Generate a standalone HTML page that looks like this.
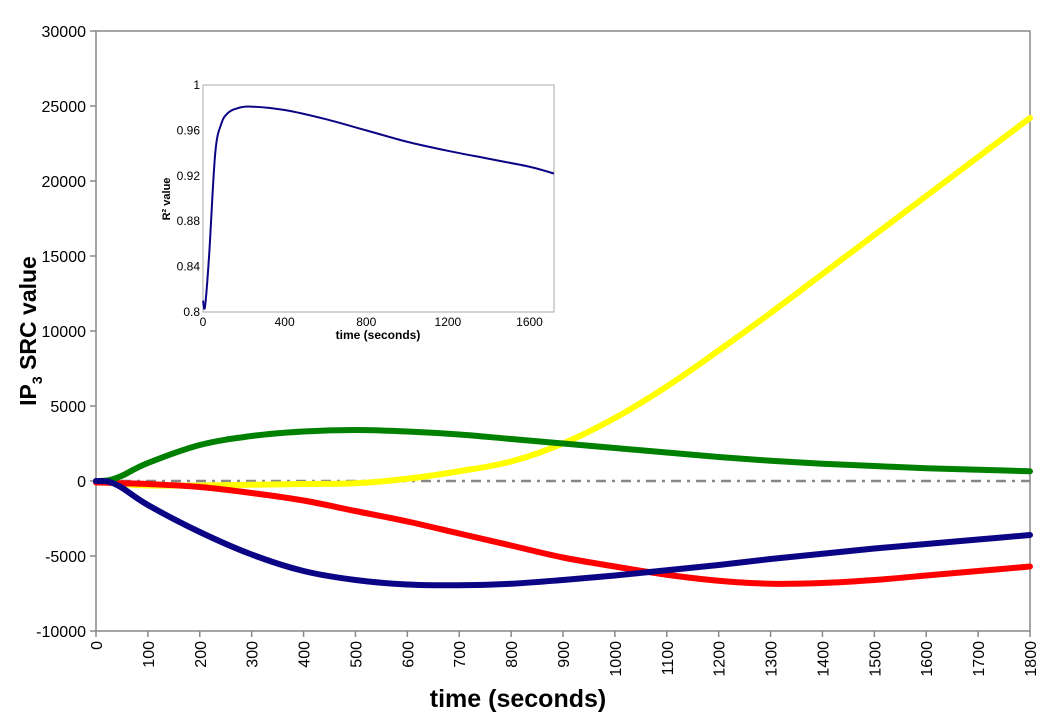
<!DOCTYPE html>
<html><head><meta charset="utf-8"><style>
body{margin:0;background:#fff;}
svg{display:block;font-family:"Liberation Sans",Arial,sans-serif;}
</style></head><body>
<svg id="chart" width="1050" height="715" viewBox="0 0 1050 715" xmlns="http://www.w3.org/2000/svg"></svg>
<script>
const times = [0,25,50,100,200,300,400,500,600,700,800,900,1000,1100,1200,1300,1400,1500,1600,1700,1800];
const yellowVals = [0,-0.1,-0.2,-0.3,-0.3,-0.25,-0.2,-0.15,0.15,0.65,1.3,2.5,4.2,6.3,8.7,11.2,13.8,16.4,19.0,21.6,24.2];
const greenVals = [0,0.05,0.35,1.2,2.4,3.0,3.3,3.4,3.3,3.1,2.8,2.5,2.2,1.9,1.6,1.35,1.15,1.0,0.85,0.75,0.65];
const blueVals = [0,-0.05,-0.45,-1.6,-3.4,-4.9,-6.0,-6.6,-6.9,-6.95,-6.85,-6.6,-6.3,-5.95,-5.6,-5.2,-4.85,-4.5,-4.2,-3.9,-3.6];
const redVals = [-0.1,-0.12,-0.15,-0.2,-0.4,-0.8,-1.3,-2.0,-2.7,-3.5,-4.3,-5.1,-5.7,-6.25,-6.65,-6.85,-6.8,-6.6,-6.3,-6.0,-5.7];
const yTicks = [-10000,-5000,0,5000,10000,15000,20000,25000,30000];
const xTicks = [0,100,200,300,400,500,600,700,800,900,1000,1100,1200,1300,1400,1500,1600,1700,1800];
const insetTimes = [0,10,30,60,90,120,160,230,400,600,800,1000,1200,1400,1600,1720];
const insetVals = [0.81,0.805,0.85,0.94,0.966,0.975,0.979,0.981,0.978,0.970,0.960,0.950,0.942,0.935,0.928,0.922];
const insetYTicks = [0.8,0.84,0.88,0.92,0.96,1];
const insetXTicks = [0,400,800,1200,1600];

const NS="http://www.w3.org/2000/svg";
const svg=document.getElementById('chart');
function mk(tag,attrs,parent){const e=document.createElementNS(NS,tag);for(const k in attrs)e.setAttribute(k,attrs[k]);(parent||svg).appendChild(e);return e;}
const X=t=>96+t*(1030-96)/1800;
const Y=v=>481-v*15/1000;
function smooth(pts){let d=`M${pts[0][0]},${pts[0][1]}`;for(let i=0;i<pts.length-1;i++){const p0=pts[i-1]||pts[i],p1=pts[i],p2=pts[i+1],p3=pts[i+2]||p2;d+=` C${p1[0]+(p2[0]-p0[0])/6},${p1[1]+(p2[1]-p0[1])/6} ${p2[0]-(p3[0]-p1[0])/6},${p2[1]-(p3[1]-p1[1])/6} ${p2[0]},${p2[1]}`;}return d;}

let e=mk('rect',{x:96,y:31,width:934,height:600,fill:'none',stroke:'#888','stroke-width':1.5});

yTicks.forEach(v=>{mk('line',{x1:90,x2:96,y1:Y(v),y2:Y(v),stroke:'#888','stroke-width':1.5});
 let t=mk('text',{x:86,y:Y(v)+6,'text-anchor':'end','font-size':16});t.textContent=v;
 });
xTicks.forEach(v=>{mk('line',{x1:X(v),x2:X(v),y1:631,y2:637,stroke:'#888','stroke-width':1.5});
 let t=mk('text',{transform:`translate(${X(v)+6},641) rotate(-90)`,'text-anchor':'end','font-size':16});t.textContent=v;
 });
e=mk('line',{x1:96,x2:1030,y1:Y(0),y2:Y(0),stroke:'#888','stroke-width':2.5,'stroke-dasharray':'10,6,3,6'});

const series=[['yellow',yellowVals,'#ffff00'],['red',redVals,'#ff0000'],['green',greenVals,'#008000'],['blue',blueVals,'#0b0585']];
series.forEach(([n,vals,c])=>{const p=mk('path',{d:smooth(times.map((t,i)=>[X(t),Y(vals[i]*1000)])),fill:'none',stroke:c,'stroke-width':6,'stroke-linecap':'round'});
 });
e=mk('text',{transform:'translate(36,331) rotate(-90)','text-anchor':'middle','font-size':23,'font-weight':'bold'});
e.innerHTML='IP<tspan font-size="14" dy="6">3</tspan><tspan dy="-6"> SRC value</tspan>';

e=mk('text',{x:518,y:707,'text-anchor':'middle','font-size':25,'font-weight':'bold'});e.textContent='time (seconds)';


const IX=t=>203+t*(554-203)/1720;
const IY=v=>312-(v-0.8)*(312-85)/0.2;
e=mk('rect',{x:203,y:85,width:351,height:227,fill:'#fff',stroke:'#aaa','stroke-width':1});

insetYTicks.forEach(v=>{let t=mk('text',{x:200,y:IY(v)+4,'text-anchor':'end','font-size':12});t.textContent=v;
 });
insetXTicks.forEach(v=>{let t=mk('text',{x:IX(v),y:326,'text-anchor':'middle','font-size':12});t.textContent=v;
 });
e=mk('path',{d:smooth(insetTimes.map((t,i)=>[IX(t),IY(insetVals[i])])),fill:'none',stroke:'#0b0585','stroke-width':2});

e=mk('text',{transform:'translate(170,199) rotate(-90)','text-anchor':'middle','font-size':11,'font-weight':'bold'});e.textContent='R² value';

e=mk('text',{x:378,y:339,'text-anchor':'middle','font-size':12,'font-weight':'bold'});e.textContent='time (seconds)';

</script>
</body></html>
